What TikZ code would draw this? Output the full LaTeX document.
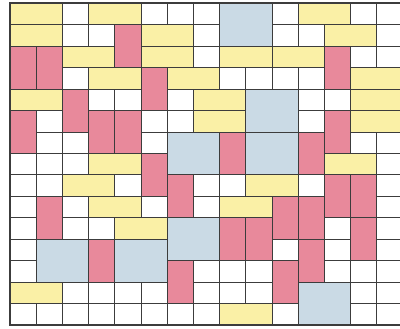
\documentclass[tikz,border=0pt]{standalone}
\usepackage{xcolor}
\definecolor{tileyellow}{HTML}{FAF0A6}
\definecolor{tilered}{HTML}{E8899B}
\definecolor{tileblue}{HTML}{CADAE5}
\definecolor{gridline}{HTML}{3C3C3C}
\begin{document}
\begin{tikzpicture}[x=6.55mm,y=-5.3625mm,
 tile/.style={draw=gridline,line width=0.7pt},
 domino/.style={tile,fill=tileyellow},
 upright/.style={tile,fill=tilered},
 square/.style={tile,fill=tileblue}]
\useasboundingbox (-0.3817,-0.1538) rectangle (14.885,15.138);
\clip (-0.3817,-0.1538) rectangle (14.885,15.138);
% empty board
\foreach \i in {0,...,15} {
  \draw[tile] (\i,0) -- (\i,15);
  \draw[tile] (0,\i) -- (15,\i);
}
% horizontal dominoes
\foreach \c/\r in {0/0,3/0,11/0,0/1,5/1,12/1,2/2,5/2,8/2,10/2,3/3,6/3,13/3,
  0/4,7/4,13/4,7/5,13/5,3/7,12/7,2/8,9/8,3/9,8/9,4/10,0/13,8/14}
  \filldraw[domino] (\c,\r) rectangle ++(2,1);
% vertical dominoes
\foreach \c/\r in {4/1,0/2,1/2,12/2,5/3,2/4,0/5,3/5,4/5,12/5,8/6,11/6,5/7,
  6/8,12/8,13/8,1/9,10/9,11/9,8/10,9/10,13/10,3/11,11/11,6/12,10/12}
  \filldraw[upright] (\c,\r) rectangle ++(1,2);
% squares
\foreach \c/\r in {8/0,9/4,6/6,9/6,6/10,1/11,4/11,11/13}
  \filldraw[square] (\c,\r) rectangle ++(2,2);
\draw[gridline,line width=1.2pt] (0,0) rectangle (15,15);
\end{tikzpicture}
\end{document}
